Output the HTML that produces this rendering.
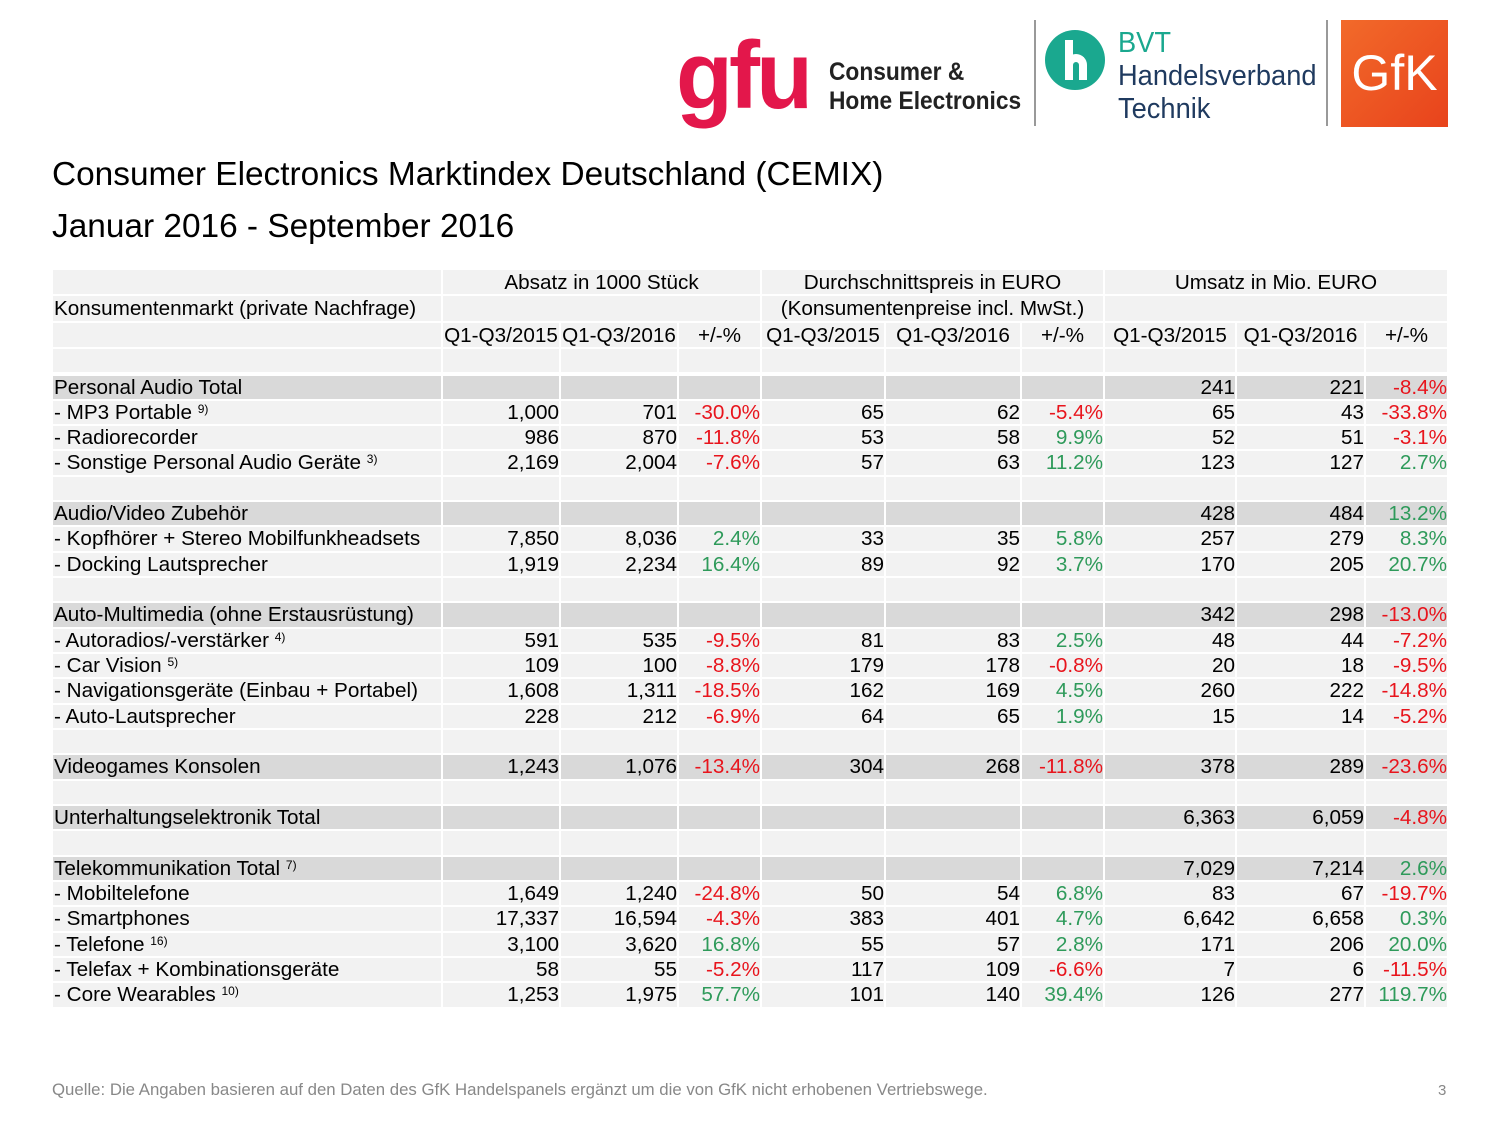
<!DOCTYPE html>
<html><head><meta charset="utf-8">
<style>
body{margin:0;width:1500px;height:1125px;background:#fff;font-family:"Liberation Sans",Arial,sans-serif;position:relative;overflow:hidden;color:#000}
.a{position:absolute;white-space:nowrap}
.c{position:absolute;box-sizing:border-box;font-size:20.7px;white-space:nowrap;overflow:visible}
.r{text-align:right}.m{text-align:center}
.red{color:#e8141c}.grn{color:#2e9a5a}
sup{font-size:12px;vertical-align:6px;line-height:0}
</style></head><body>
<div class="a" style="left:676px;top:28px;font-size:96px;font-weight:bold;color:#e3174b;letter-spacing:-4px;line-height:96px;transform:scaleX(0.97);transform-origin:left">gfu</div>
<div class="a" style="left:829px;top:58px;font-size:25px;font-weight:bold;line-height:29px;color:#222;transform:scaleX(0.91);transform-origin:left">Consumer &amp;<br>Home Electronics</div>
<div class="a" style="left:1034px;top:20px;width:2px;height:106px;background:#999"></div>
<div class="a" style="left:1045px;top:30px;width:60px;height:60px;border-radius:50%;background:#1aa88f"><div style="position:absolute;left:20px;top:10px;width:8px;height:40px;background:#fff"></div><div style="position:absolute;left:20px;top:24px;width:22px;height:26px;border:8px solid #fff;border-bottom:none;border-radius:12px 12px 0 0;box-sizing:border-box"></div></div>
<div class="a" style="left:1118px;top:27px;font-size:29px;line-height:33px;color:#1f3a5f;transform:scaleX(0.94);transform-origin:left"><span style="color:#1aa88f">BVT</span><br>Handelsverband<br>Technik</div>
<div class="a" style="left:1326px;top:20px;width:2px;height:106px;background:#999"></div>
<div class="a" style="left:1341px;top:20px;width:107px;height:107px;background:linear-gradient(135deg,#f26a2a,#e8431c);color:#fff;font-size:50px;line-height:107px;text-align:center">GfK</div>
<div class="a" style="left:52px;top:156px;font-size:33.4px">Consumer Electronics Marktindex Deutschland (CEMIX)</div>
<div class="a" style="left:52px;top:208px;font-size:33.4px">Januar 2016 - September 2016</div>
<div id="tbl"></div>
<div class="a" style="left:52px;top:1080px;font-size:16.8px;color:#888">Quelle: Die Angaben basieren auf den Daten des GfK Handelspanels ergänzt um die von GfK nicht erhobenen Vertriebswege.</div>
<div class="a" style="left:1438px;top:1082px;font-size:15px;color:#888">3</div>
<script>
const labels=["","Konsumentenmarkt (private Nachfrage)","","","Personal Audio Total","- MP3 Portable <sup>9)</sup>","- Radiorecorder","- Sonstige Personal Audio Geräte <sup>3)</sup>","","Audio/Video Zubehör","- Kopfhörer + Stereo Mobilfunkheadsets","- Docking Lautsprecher","","Auto-Multimedia (ohne Erstausrüstung)","- Autoradios/-verstärker <sup>4)</sup>","- Car Vision <sup>5)</sup>","- Navigationsgeräte (Einbau + Portabel)","- Auto-Lautsprecher","","Videogames Konsolen","","Unterhaltungselektronik Total","","Telekommunikation Total <sup>7)</sup>","- Mobiltelefone","- Smartphones","- Telefone <sup>16)</sup>","- Telefax + Kombinationsgeräte","- Core Wearables <sup>10)</sup>"];
const totals=[4,9,13,19,21,23];
const values=[
null,null,null,null,
["","","","","","","241","221","-8.4%"],
["1,000","701","-30.0%","65","62","-5.4%","65","43","-33.8%"],
["986","870","-11.8%","53","58","9.9%","52","51","-3.1%"],
["2,169","2,004","-7.6%","57","63","11.2%","123","127","2.7%"],
null,
["","","","","","","428","484","13.2%"],
["7,850","8,036","2.4%","33","35","5.8%","257","279","8.3%"],
["1,919","2,234","16.4%","89","92","3.7%","170","205","20.7%"],
null,
["","","","","","","342","298","-13.0%"],
["591","535","-9.5%","81","83","2.5%","48","44","-7.2%"],
["109","100","-8.8%","179","178","-0.8%","20","18","-9.5%"],
["1,608","1,311","-18.5%","162","169","4.5%","260","222","-14.8%"],
["228","212","-6.9%","64","65","1.9%","15","14","-5.2%"],
null,
["1,243","1,076","-13.4%","304","268","-11.8%","378","289","-23.6%"],
null,
["","","","","","","6,363","6,059","-4.8%"],
null,
["","","","","","","7,029","7,214","2.6%"],
["1,649","1,240","-24.8%","50","54","6.8%","83","67","-19.7%"],
["17,337","16,594","-4.3%","383","401","4.7%","6,642","6,658","0.3%"],
["3,100","3,620","16.8%","55","57","2.8%","171","206","20.0%"],
["58","55","-5.2%","117","109","-6.6%","7","6","-11.5%"],
["1,253","1,975","57.7%","101","140","39.4%","126","277","119.7%"]];
const colL=[53,443,561,679,762,886,1022,1105,1237,1366];
const colR=[441,559,677,760,884,1020,1103,1235,1364,1447];
function rowTop(i){return i<4?270+i*26.3:375.5+(i-4)*25.33;}
function rowH(i){return i<3?24.3:23.33;}
const tbl=document.getElementById('tbl');
function cell(x,y,w,h,bg,html,cls){
 const d=document.createElement('div');
 d.className='c '+(cls||'');
 d.style.cssText=`left:${x}px;top:${y}px;width:${w}px;height:${h}px;line-height:${h+1}px;background:${bg}`;
 d.innerHTML=html;
 tbl.appendChild(d);return d;
}
for(let i=0;i<labels.length;i++){
 const y=rowTop(i), h=rowH(i);
 const bg=totals.includes(i)?'#d9d9d9':'#f2f2f2';
 if(i===0){
  const d=cell(colL[0],y,colR[0]-colL[0],h,bg,'');
  
  
  [['Absatz in 1000 Stück',1,3],['Durchschnittspreis in EURO',4,6],['Umsatz in Mio. EURO',7,9]].forEach(g=>{
   const e=cell(colL[g[1]],y,colR[g[2]]-colL[g[1]],h,bg,g[0],'m');
   
   
  });continue;
 }
 const lab=cell(colL[0],y,colR[0]-colL[0],h,bg,labels[i]);
 lab.style.paddingLeft='1px';
 
 
 if(i===1){
  [[1,3,''],[4,6,'(Konsumentenpreise incl. MwSt.)'],[7,9,'']].forEach(g=>{
   const e=cell(colL[g[0]],y,colR[g[1]]-colL[g[0]],h,bg,g[2],'m');
   
   
  });continue;
 }
 for(let c=1;c<10;c++){
  let txt='',cls='r';
  if(i===2){txt=['Q1-Q3/2015','Q1-Q3/2016','+/-%'][(c-1)%3];cls='m';}
  else if(values[i]){txt=values[i][c-1];
   if(c%3===0&&txt)cls+=txt.startsWith('-')?' red':' grn';}
  const e=cell(colL[c],y,colR[c]-colL[c],h,bg,txt,cls);
  
  
 }
}
</script>
</body></html>
